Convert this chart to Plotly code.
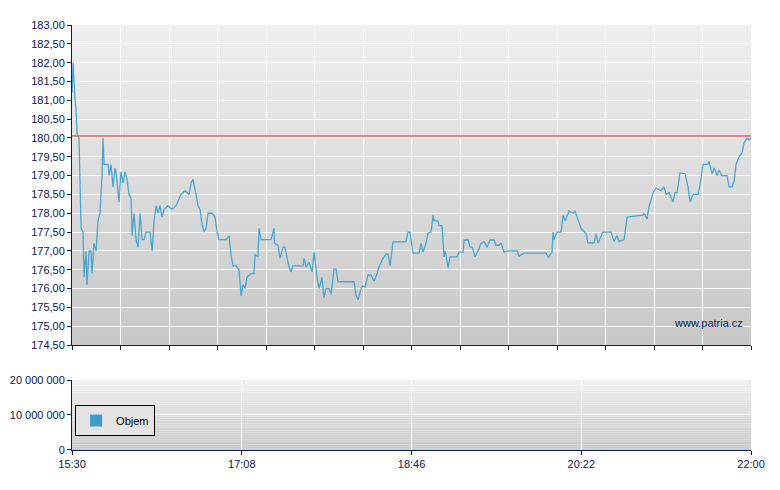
import plotly.graph_objects as go

# minutes after 15:30 and price
minutes = [0, 0.6, 1.7, 2.3, 2.9, 4.0, 5.2, 6.3, 6.9, 8.0, 8.6, 9.8, 10.9, 11.5, 12.6, 13.8, 14.9, 16.1,
           17.2, 17.8, 18.4, 19.5, 20.7, 21.3, 22.4, 23.5, 24.7, 25.3, 26.4, 27.0, 28.1, 29.3, 30.4, 31.6,
           32.7, 33.9, 34.5, 35.6, 36.8, 37.9, 39.1, 40.2, 41.4, 42.5, 43.7, 44.8, 46.0, 47.1, 48.3, 49.4,
           50.5, 51.7, 52.8, 55.1, 57.4, 59.7, 62.6, 64.9, 67.2, 68.3, 69.5, 70.6, 72.4, 73.5, 74.7, 75.8,
           77.0, 78.1, 80.4, 82.1, 83.3, 84.4, 88.4, 90.2, 91.3, 92.5, 94.2, 95.9, 97.1, 98.2, 99.4, 100.5,
           102.8, 104.5, 105.1, 106.8, 107.4, 108.6, 114.3, 116.0, 116.3, 118.3, 119.5, 121.2, 122.3, 124.6,
           125.8, 126.9, 132.7, 133.3, 134.4, 136.1, 137.9, 139.0, 140.7, 141.9, 143.6, 144.7, 145.9, 147.6,
           148.8, 150.5, 151.6, 152.8, 154.5, 162.0, 163.1, 164.3, 165.4, 166.6, 168.3, 170.0, 171.7, 173.5,
           175.2, 176.3, 178.6, 180.4, 181.5, 182.7, 184.4, 191.8, 193.0, 194.1, 195.9, 199.3, 200.5, 201.6,
           203.3, 204.5, 206.2, 207.4, 207.9, 210.2, 210.8, 212.5, 213.7, 214.3, 216.0, 217.1, 221.1, 222.3,
           224.6, 225.2, 227.5, 228.6, 229.8, 231.5, 233.2, 234.9, 236.7, 238.4, 240.1, 242.4, 243.5, 245.3,
           246.4, 248.1, 250.4, 255.6, 256.8, 259.6, 272.3, 273.4, 275.7, 276.3, 276.9, 278.6, 280.9, 282.0,
           283.2, 285.5, 287.8, 288.9, 290.6, 292.4, 295.2, 296.4, 299.8, 301.0, 302.1, 305.0, 309.6, 311.3,
           313.0, 314.2, 317.1, 318.8, 328.0, 328.5, 330.3, 331.4, 333.7, 335.4, 338.3, 340.0, 341.2, 342.9,
           345.2, 346.3, 347.5, 349.2, 352.1, 353.8, 355.0, 356.7, 358.4, 359.6, 360.7, 362.4, 365.3, 365.9,
           367.6, 368.8, 370.5, 371.6, 373.4, 376.2, 377.4, 379.1, 380.3, 381.4, 383.1, 384.8, 386.0, 387.7,
           388.9, 390.0]
price = [181.2, 182.0, 181.0, 180.8, 180.1, 180.0, 177.6, 177.5, 176.3, 177.0, 176.1, 177.0, 177.0, 176.4,
         177.2, 177.0, 177.8, 178.0, 179.0, 180.0, 179.3, 179.3, 179.3, 179.0, 179.3, 178.7, 179.2, 179.1,
         178.5, 178.3, 179.1, 178.8, 179.1, 178.9, 178.5, 178.4, 177.4, 178.0, 177.3, 177.1, 178.0, 177.3,
         177.3, 177.5, 177.5, 177.5, 177.0, 177.8, 178.2, 178.0, 178.2, 177.9, 178.1, 178.2, 178.1, 178.2,
         178.5, 178.6, 178.5, 178.8, 178.9, 178.6, 178.2, 178.1, 177.7, 177.5, 177.6, 178.0, 178.0, 177.9,
         177.5, 177.3, 177.3, 177.4, 176.9, 176.6, 176.6, 176.5, 175.8, 176.1, 176.0, 176.3, 176.4, 176.4,
         176.9, 176.85, 177.6, 177.3, 177.3, 177.6, 177.2, 177.15, 176.8, 177.1, 177.1, 176.57, 176.44, 176.6,
         176.6, 176.8, 176.57, 176.7, 176.44, 176.97, 176.3, 176.0, 176.3, 175.75, 176.0, 176.0, 175.85,
         176.52, 176.52, 176.18, 176.18, 176.18, 175.83, 175.7, 175.9, 176.07, 176.05, 176.36, 176.36, 176.2,
         176.4, 176.57, 176.8, 176.92, 176.92, 176.6, 177.24, 177.24, 177.5, 177.5, 176.94, 176.94, 177.2,
         176.97, 177.2, 177.47, 177.5, 177.95, 177.8, 177.8, 177.67, 177.67, 176.84, 177.0, 176.55, 176.84,
         176.84, 176.97, 176.97, 177.29, 177.29, 177.1, 177.1, 176.84, 177.0, 177.2, 177.24, 177.1, 177.29,
         177.29, 177.15, 177.15, 177.21, 176.97, 177.0, 177.0, 176.86, 176.94, 176.94, 176.82, 176.97, 177.5,
         177.3, 177.5, 177.5, 177.95, 177.8, 178.06, 178.0, 178.06, 177.83, 177.6, 177.45, 177.21, 177.21,
         177.45, 177.21, 177.5, 177.5, 177.25, 177.4, 177.25, 177.3, 177.9, 177.95, 178.0, 177.85, 178.17,
         178.54, 178.67, 178.6, 178.7, 178.5, 178.55, 178.3, 178.55, 178.55, 179.07, 179.05, 178.7, 178.3,
         178.5, 178.5, 178.5, 178.75, 179.3, 179.3, 179.38, 179.05, 179.2, 179.0, 179.15, 179.0, 179.0, 178.7,
         178.7, 178.85, 179.3, 179.5, 179.6, 179.87, 180.0, 179.95, 180.0]
prev_close = 180.05

vol_minutes = [0, 390]
volume = [0, 0]

time_ticks = [0, 97.5, 195, 292.5, 390]
time_labels = ["15:30", "17:08", "18:46", "20:22", "22:00"]

navy = "#0a2050"
line_blue = "#4aa6d0"

fig = go.Figure()
fig.add_trace(go.Scatter(x=minutes, y=price, mode="lines", line=dict(color=line_blue, width=1.3),
                         showlegend=False, xaxis="x", yaxis="y"))
fig.add_trace(go.Scatter(x=[0, 390], y=[prev_close, prev_close], mode="lines",
                         line=dict(color="#e06060", width=1.5), showlegend=False, xaxis="x", yaxis="y"))
fig.add_trace(go.Bar(x=vol_minutes, y=volume, name="Objem",
                     marker=dict(color="#3d9ccc", line=dict(color="#1a3050", width=0)),
                     xaxis="x2", yaxis="y2"))

# gradient background from stacked bands
shapes = []
n = 40
for xref, yref in [("x domain", "y domain"), ("x2 domain", "y2 domain")]:
    for i in range(n):
        g = int(240 - (240 - 200) * (i + 0.5) / n)
        shapes.append(dict(type="rect", xref=xref, yref=yref,
                           x0=0, x1=1, y0=1 - (i + 1) / n, y1=1 - i / n, layer="below", line_width=0,
                           fillcolor=f"rgb({g},{g},{g})"))

axis_common = dict(showline=True, linecolor=navy, linewidth=1, ticks="outside", tickcolor=navy, ticklen=4,
                   gridcolor="white", gridwidth=1, zeroline=False, automargin=False,
                   tickfont=dict(family="Liberation Sans, Arial", size=11, color=navy))

fig.update_layout(
    width=780, height=490, margin=dict(l=0, r=0, t=0, b=0),
    paper_bgcolor="white", plot_bgcolor="rgba(0,0,0,0)",
    separators=", ", shapes=shapes, bargap=0.98,
    xaxis=dict(axis_common, domain=[0.0821, 0.9526], range=[0, 390], tickvals=[390 / 14 * i for i in range(15)],
               showticklabels=False),
    yaxis=dict(axis_common, domain=[0.3122, 0.9653], range=[174.5, 183], dtick=0.5, tickformat=".2f"),
    xaxis2=dict(axis_common, domain=[0.0821, 0.9526], range=[0, 390], tickvals=time_ticks, ticktext=time_labels,
                anchor="y2"),
    yaxis2=dict(axis_common, domain=[0.098, 0.2408], range=[0, 20000000], tickvals=[0, 10000000, 20000000],
                tickformat=",d", anchor="x2"),
    legend=dict(x=0.086, y=0.1898, xanchor="left", yanchor="top", bgcolor="#e4e4e4", bordercolor="black",
                borderwidth=1, itemwidth=30, font=dict(family="Liberation Sans, Arial", size=11, color="black")),
    annotations=[dict(text="www.patria.cz", x=0.945, y=0.357, xref="paper", yref="paper", xanchor="right",
                      showarrow=False, font=dict(family="Liberation Sans, Arial", size=11, color=navy))],
)

fig.write_html("out.html")
